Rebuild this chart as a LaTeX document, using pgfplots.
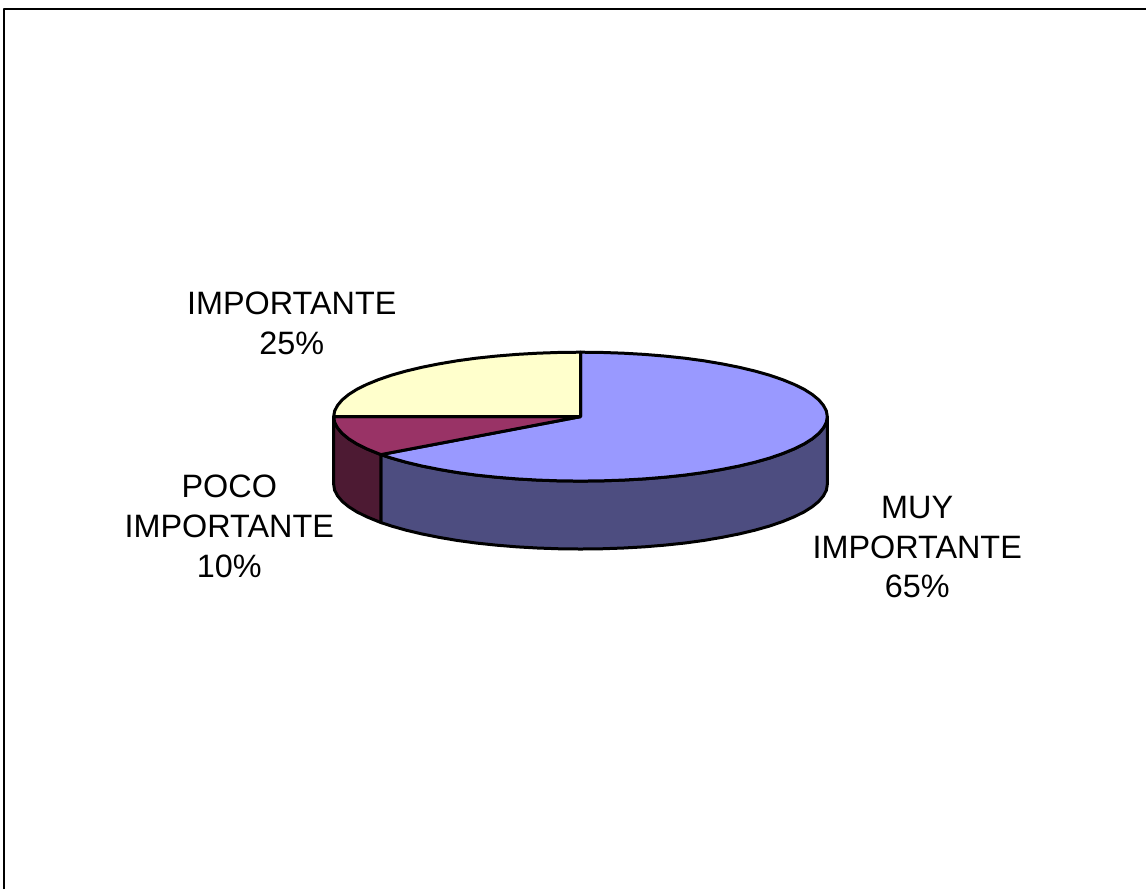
\documentclass[border=0pt]{standalone}
\usepackage{pgfplots}
\pgfplotsset{compat=1.18}
\usepackage{fontspec}
\setmainfont{Liberation Sans}
\definecolor{muyTop}{RGB}{153,153,255}
\definecolor{muySide}{RGB}{77,77,128}
\definecolor{pocoTop}{RGB}{153,51,102}
\definecolor{pocoSide}{RGB}{77,26,51}
\definecolor{impTop}{RGB}{255,255,204}
\tikzset{lbl/.style={align=center, anchor=center, font=\fontsize{32.4}{40}\selectfont}}
\begin{document}
\begin{tikzpicture}
\begin{axis}[
	scale only axis,
	width=1147pt,
	height=890pt,
	xmin=0, xmax=1147,
	ymin=0, ymax=890,
	y dir=reverse,
	axis lines=none,
	clip=false,
	every axis plot/.append style={line width=3pt, line join=round},
]
% keeps the page as large as the whole chart area
\addplot[draw=none, mark=none] coordinates {(0,0) (1147,890)};
% outer frame
\addplot[black, line width=2pt, mark=none] coordinates {(4.5,890) (4.5,9) (1147,9)};
% side of the big slice (65%)
\addplot[fill=muySide, draw=black, mark=none] coordinates {
	(828,417) (827.1,422.6) (824.2,428.2) (819.6,433.7) (813.1,439.1) (804.9,444.3) (794.9,449.25) (783.3,454)
	(770.2,458.5) (755.7,462.6) (739.8,466.4) (722.7,469.8) (704.5,472.9) (685.4,475.5) (665.5,477.6) (644.9,479.3)
	(623.9,480.5) (602.5,481.25) (581,481.5) (559.5,481.25) (538.1,480.5) (517.1,479.3) (496.5,477.6) (476.6,475.5)
	(457.5,472.9) (439.3,469.8) (422.2,466.4) (406.3,462.6) (391.8,458.5) (381.2,455)
	(381.2,523) (391.8,526.5) (406.3,530.6) (422.2,534.4) (439.3,537.8) (457.5,540.9) (476.6,543.5) (496.5,545.6)
	(517.1,547.3) (538.1,548.5) (559.5,549.25) (581,549.5) (602.5,549.25) (623.9,548.5) (644.9,547.3) (665.5,545.6)
	(685.4,543.5) (704.5,540.9) (722.7,537.8) (739.8,534.4) (755.7,530.6) (770.2,526.5) (783.3,522) (794.9,517.25)
	(804.9,512.3) (813.1,507.1) (819.6,501.7) (824.2,496.2) (827.1,490.6) (828,485)
} -- cycle;
% side of the small slice (10%)
\addplot[fill=pocoSide, draw=black, mark=none] coordinates {
	(381.2,455) (378.7,454) (367.1,449.25) (357.1,444.3) (348.9,439.1) (342.4,433.7) (337.8,428.2) (334.9,422.6) (334,417)
	(334,485) (334.9,490.6) (337.8,496.2) (342.4,501.7) (348.9,507.1) (357.1,512.3) (367.1,517.25) (378.7,522) (381.2,523)
} -- cycle;
% top: MUY IMPORTANTE 65%
\addplot[fill=muyTop, draw=black, mark=none] coordinates {
	(581,417) (581,352.5) (602.5,352.75) (623.9,353.5) (644.9,354.7) (665.5,356.4) (685.4,358.5) (704.5,361.1) (722.7,364.2)
	(739.8,367.6) (755.7,371.4) (770.2,375.5) (783.3,380) (794.9,384.75) (804.9,389.7) (813.1,394.9) (819.6,400.3)
	(824.2,405.8) (827.1,411.4) (828,417) (827.1,422.6) (824.2,428.2) (819.6,433.7) (813.1,439.1) (804.9,444.3)
	(794.9,449.25) (783.3,454) (770.2,458.5) (755.7,462.6) (739.8,466.4) (722.7,469.8) (704.5,472.9) (685.4,475.5)
	(665.5,477.6) (644.9,479.3) (623.9,480.5) (602.5,481.25) (581,481.5) (559.5,481.25) (538.1,480.5) (517.1,479.3)
	(496.5,477.6) (476.6,475.5) (457.5,472.9) (439.3,469.8) (422.2,466.4) (406.3,462.6) (391.8,458.5) (381.2,455)
} -- cycle;
% top: POCO IMPORTANTE 10%
\addplot[fill=pocoTop, draw=black, mark=none] coordinates {
	(581,417) (381.2,455) (378.7,454) (367.1,449.25) (357.1,444.3) (348.9,439.1) (342.4,433.7) (337.8,428.2) (334.9,422.6) (334,417)
} -- cycle;
% top: IMPORTANTE 25%
\addplot[fill=impTop, draw=black, mark=none] coordinates {
	(581,417) (334,417) (334.9,411.4) (337.8,405.8) (342.4,400.3) (348.9,394.9) (357.1,389.7) (367.1,384.75) (378.7,380)
	(391.8,375.5) (406.3,371.4) (422.2,367.6) (439.3,364.2) (457.5,361.1) (476.6,358.5) (496.5,356.4) (517.1,354.7)
	(538.1,353.5) (559.5,352.75) (581,352.5)
} -- cycle;
\node[lbl] at (axis cs:292,323.5) {IMPORTANTE\\25\%};
\node[lbl] at (axis cs:229.5,526.5) {POCO\\IMPORTANTE\\10\%};
\node[lbl] at (axis cs:918,547.5) {MUY\\IMPORTANTE\\65\%};
\end{axis}
\end{tikzpicture}
\end{document}
